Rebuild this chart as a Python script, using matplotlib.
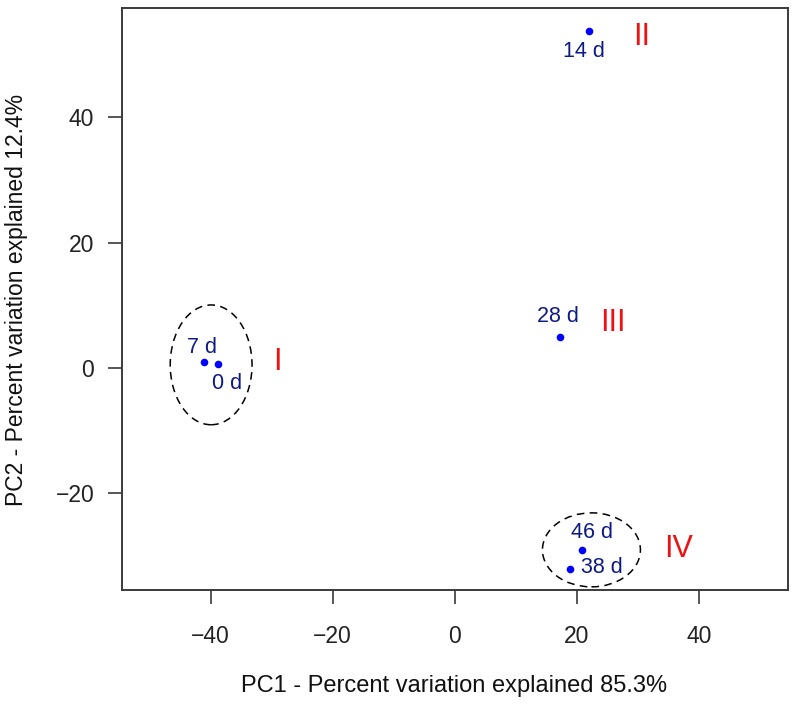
import matplotlib
matplotlib.use("Agg")
import matplotlib.pyplot as plt
from matplotlib.patches import Ellipse

plt.rcParams['font.family'] = ['Liberation Sans', 'DejaVu Sans']

# Data
samples = ["14 d", "28 d", "7 d", "0 d", "46 d", "38 d"]
pc1 = [22.0, 17.3, -41.0, -38.7, 20.9, 18.9]
pc2 = [53.8, 4.9, 0.9, 0.6, -29.0, -32.0]

groups = ["I", "II", "III", "IV"]
group_x = [-29.1, 30.6, 25.9, 36.6]
group_y = [1.0, 52.7, 7.2, -28.8]

# ellipses: center x, center y, width, height (data units)
ell_cx = [-39.9, 22.4]
ell_cy = [0.5, -29.0]
ell_w = [13.4, 16.05]
ell_h = [19.1, 11.8]

xticks = [-40, -20, 0, 20, 40]
yticks = [-20, 0, 20, 40]

# label offsets (points) for sample labels
label_offsets = [(-3.6, -15.0), (-1.7, 14.7), (-1.9, 10.8), (6.2, -14.1), (6.8, 12.7), (23.0, 0.5)]

W, H = 797, 706
fig = plt.figure(figsize=(W / 100, H / 100), dpi=100)
ax = fig.add_axes([122 / W, (H - 590) / H, 666 / W, 582 / H])

ax.scatter(pc1, pc2, s=30, color="#0000FF", zorder=3, linewidths=0)
for name, x, y, off in zip(samples, pc1, pc2, label_offsets):
    ax.annotate(name, (x, y), xytext=off, textcoords="offset points",
                ha="center", va="center", fontsize=15.5, color="#0D1A85")

for g, x, y in zip(groups, group_x, group_y):
    ax.text(x, y, g, ha="center", va="center", fontsize=22, color="#EE1111")

for cx, cy, w, h in zip(ell_cx, ell_cy, ell_w, ell_h):
    ax.add_patch(Ellipse((cx, cy), w, h, fill=False, edgecolor="black",
                         linestyle=(0, (5, 3.5)), linewidth=1.1))

ax.set_xlim(-54.5, 54.6)
ax.set_ylim(-35.4, 57.4)
ax.set_xticks(xticks)
ax.set_yticks(yticks)
ax.set_xticklabels(["\u2212" + str(abs(t)) if t < 0 else str(t) for t in xticks])
ax.set_yticklabels(["\u2212" + str(abs(t)) if t < 0 else str(t) for t in yticks])

for sp in ax.spines.values():
    sp.set_linewidth(1.4)
    sp.set_color("#3a3a3a")
ax.tick_params(axis="both", direction="out", length=10, width=1.2, color="#3a3a3a",
               labelsize=16.5, labelcolor="#222222")
ax.tick_params(axis="x", pad=15)
ax.tick_params(axis="y", pad=10)

fig.text(454 / W, 1 - 686 / H, "PC1 - Percent variation explained 85.3%",
         ha="center", va="center", fontsize=17, color="#111111")
fig.text(17 / W, 1 - 300 / H, "PC2 - Percent variation explained 12.4%",
         ha="center", va="center", rotation=90, fontsize=16.5, color="#111111")

fig.savefig("out.png", dpi=100)
